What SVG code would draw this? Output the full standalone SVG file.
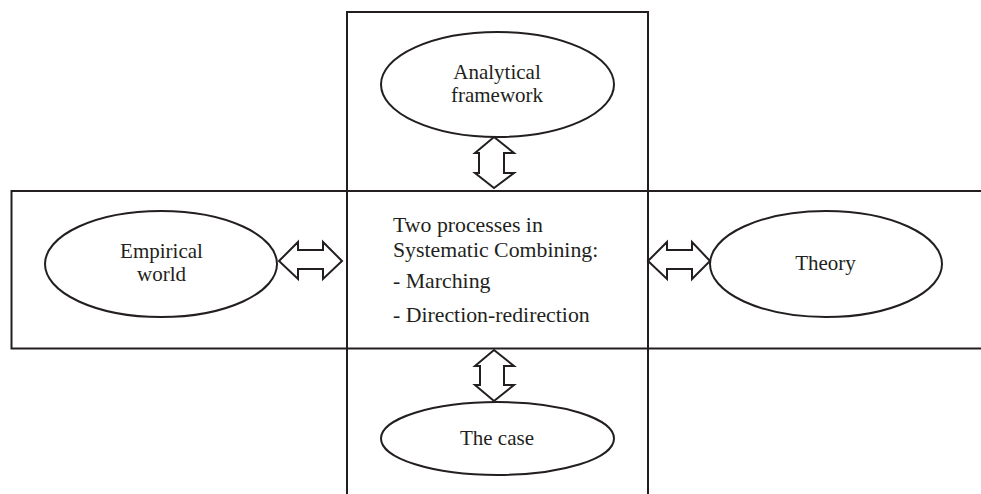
<svg xmlns="http://www.w3.org/2000/svg" width="981" height="494" viewBox="0 0 981 494">
<style>
.frame{fill:none;stroke:#231f20;stroke-width:2}
.node ellipse{fill:#fff;stroke:#231f20;stroke-width:2}
.arrow{fill:#fff;stroke:#231f20;stroke-width:2;stroke-linejoin:miter}
text{font-family:"Liberation Serif","Times New Roman",serif;font-size:21px;fill:#231f20}
.c{text-anchor:middle}
.big{font-size:21.8px}
</style>
<rect width="981" height="494" fill="#fff"/>
<g id="frames">
<path class="frame" d="M347,494 V12 H648 V494"/>
<path class="frame" d="M981,191 H11.5 V348.5 H981"/>
</g>
<g id="connectors">
<path class="arrow" d="M494,137 L514,153 H504 V173 H514 L494,188 L475,173 H479 V153 H475 Z"/>
<path class="arrow" d="M494,350 L514,366 H504 V385 H514 L494,401 L475,385 H480 V366 H475 Z"/>
<path class="arrow" d="M279,261 L298,242 V250 H323 V242 L342,261 L323,279 V269 H298 V279 Z"/>
<path class="arrow" d="M648,261 L667,242 V250 H692 V242 L710,261 L692,279 V269 H667 V279 Z"/>
</g>
<g id="analytical-framework" class="node">
<ellipse cx="497.5" cy="84.5" rx="116.5" ry="52.5"/>
<text class="c" x="497" y="79">Analytical</text>
<text class="c" x="497" y="102">framework</text>
</g>
<g id="empirical-world" class="node">
<ellipse cx="161" cy="264" rx="116" ry="53"/>
<text class="c" x="161.5" y="258">Empirical</text>
<text class="c" x="161.5" y="281">world</text>
</g>
<g id="theory" class="node">
<ellipse cx="826" cy="264" rx="116" ry="53"/>
<text class="c" x="825.5" y="270">Theory</text>
</g>
<g id="the-case" class="node">
<ellipse cx="497.5" cy="438.5" rx="116.5" ry="36.5"/>
<text class="c" x="497" y="445">The case</text>
</g>
<g id="systematic-combining">
<text class="big" x="393" y="232">Two processes in</text>
<text class="big" x="393" y="257">Systematic Combining:</text>
<text class="big" x="393" y="288">- Marching</text>
<text class="big" x="393" y="322">- Direction-redirection</text>
</g>
</svg>
